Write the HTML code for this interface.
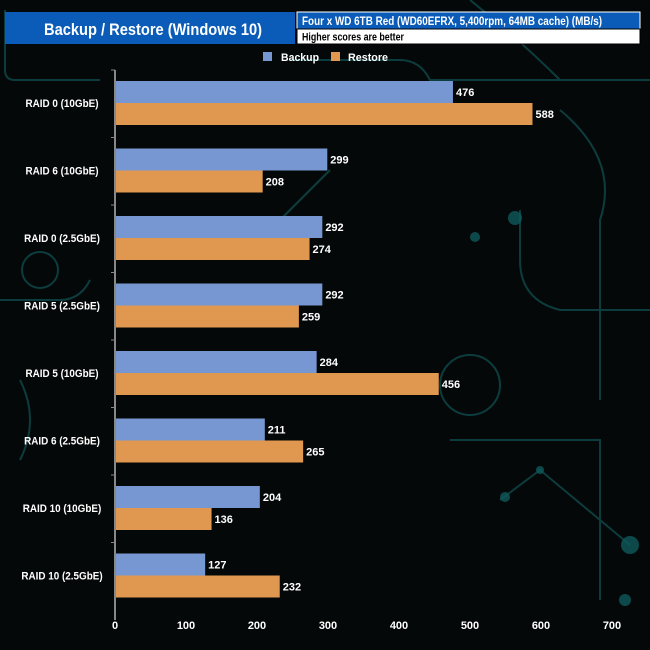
<!DOCTYPE html>
<html><head><meta charset="utf-8"><style>
body{margin:0;width:650px;height:650px;overflow:hidden;background:#000;font-family:"Liberation Sans",sans-serif}
</style></head><body>
<svg width="650" height="650" xmlns="http://www.w3.org/2000/svg" style="display:block">
<rect x="0" y="0" width="650" height="650" fill="#050808"/>
<g stroke="#0f4a4c" stroke-width="2" fill="none" opacity="0.8">
<path d="M5 10 V70 Q5 80 15 80 H100"/>
<path d="M0 300 H60 Q80 300 90 280"/>
<path d="M290 60 H400 Q420 60 430 80 H650"/>
<path d="M470 0 Q520 40 560 80 H650"/>
<path d="M560 110 Q620 160 600 220 V400"/>
<path d="M520 210 V260 Q520 300 560 310 H650"/>
<path d="M450 440 H600 V600"/>
<path d="M500 500 L540 470 L600 520 L630 545"/>
<path d="M20 380 Q40 420 20 460"/>
<circle cx="40" cy="270" r="18"/>
<circle cx="470" cy="385" r="30"/>
<path d="M280 220 L330 170"/>
</g>
<g fill="#0f5a5c" opacity="0.8">
<circle cx="630" cy="545" r="9"/><circle cx="505" cy="497" r="5"/><circle cx="540" cy="470" r="4"/>
<circle cx="625" cy="600" r="6"/><circle cx="515" cy="218" r="7"/><circle cx="475" cy="237" r="5"/>
</g>
<rect x="5" y="12" width="290" height="32" fill="#0a5cb8"/>
<text x="44" y="35" fill="#fff" font-size="17" font-weight="bold" textLength="218" lengthAdjust="spacingAndGlyphs">Backup / Restore (Windows 10)</text>
<rect x="297" y="12" width="343" height="17" fill="#0a5cb8" stroke="#fff" stroke-width="1"/>
<text x="302" y="25" fill="#fff" font-size="11.5" font-weight="bold" textLength="300" lengthAdjust="spacingAndGlyphs">Four x WD 6TB Red (WD60EFRX, 5,400rpm, 64MB cache) (MB/s)</text>
<rect x="297" y="29" width="343" height="15" fill="#fff" stroke="#000" stroke-width="1"/>
<text x="302" y="40.5" fill="#000" font-size="11" font-weight="bold" textLength="102" lengthAdjust="spacingAndGlyphs">Higher scores are better</text>
<g>
<rect x="263" y="52" width="9" height="9" fill="#7697d1"/>
<text x="281" y="61" fill="#fff" font-size="11" font-weight="bold" textLength="38" lengthAdjust="spacingAndGlyphs">Backup</text>
<rect x="331" y="52" width="9" height="9" fill="#e09850"/>
<text x="348" y="61" fill="#fff" font-size="11" font-weight="bold" textLength="40" lengthAdjust="spacingAndGlyphs">Restore</text>
</g>
<g id="plot"></g>
</svg>
<script>
const categories=["RAID 0 (10GbE)","RAID 6 (10GbE)","RAID 0 (2.5GbE)","RAID 5 (2.5GbE)","RAID 5 (10GbE)","RAID 6 (2.5GbE)","RAID 10 (10GbE)","RAID 10 (2.5GbE)"];
const backup=[476,299,292,292,284,211,204,127];
const restore=[588,208,274,259,456,265,136,232];
const ticks=[0,100,200,300,400,500,600,700];
const NS="http://www.w3.org/2000/svg";
const g=document.getElementById('plot');
const x0=115,x1=612,vmax=700,yTop=70,step=67.5,firstY=81,barH=22;
const xs=v=>x0+v/vmax*(x1-x0);
function el(t,a,txt){const e=document.createElementNS(NS,t);for(const k in a)e.setAttribute(k,a[k]);if(txt!==undefined)e.textContent=txt;g.appendChild(e);return e;}
const axis=el('line',{x1:x0,y1:yTop,x2:x0,y2:620,stroke:'#888','stroke-width':2});


ticks.forEach(t=>{
 const tl=el('text',{x:xs(t),y:629,fill:'#fff','font-size':11,'font-weight':'bold','text-anchor':'middle'},String(t));
 
 
});
categories.forEach((c,i)=>{
 const y=firstY+i*step;
 const lab=el('text',{x:62,y:y+barH+4,fill:'#fff','font-size':11,'font-weight':'bold','text-anchor':'middle',transform:'translate(62 0) scale(0.9 1) translate(-62 0)'},c);
 
 
 const tk=el('line',{x1:x0-4,y1:y-11,x2:x0,y2:y-11,stroke:'#888','stroke-width':1});
 
 
 const b=el('rect',{x:x0+1,y:y,width:xs(backup[i])-x0-1,height:barH,fill:'#7697d1'});
 
 
 const bv=el('text',{x:xs(backup[i])+3,y:y+15,fill:'#fff','font-size':11,'font-weight':'bold'},String(backup[i]));
 
 
 const r=el('rect',{x:x0+1,y:y+barH,width:xs(restore[i])-x0-1,height:barH,fill:'#e09850'});
 
 
 const rv=el('text',{x:xs(restore[i])+3,y:y+barH+15,fill:'#fff','font-size':11,'font-weight':'bold'},String(restore[i]));
 
 
});
</script>
</body></html>
